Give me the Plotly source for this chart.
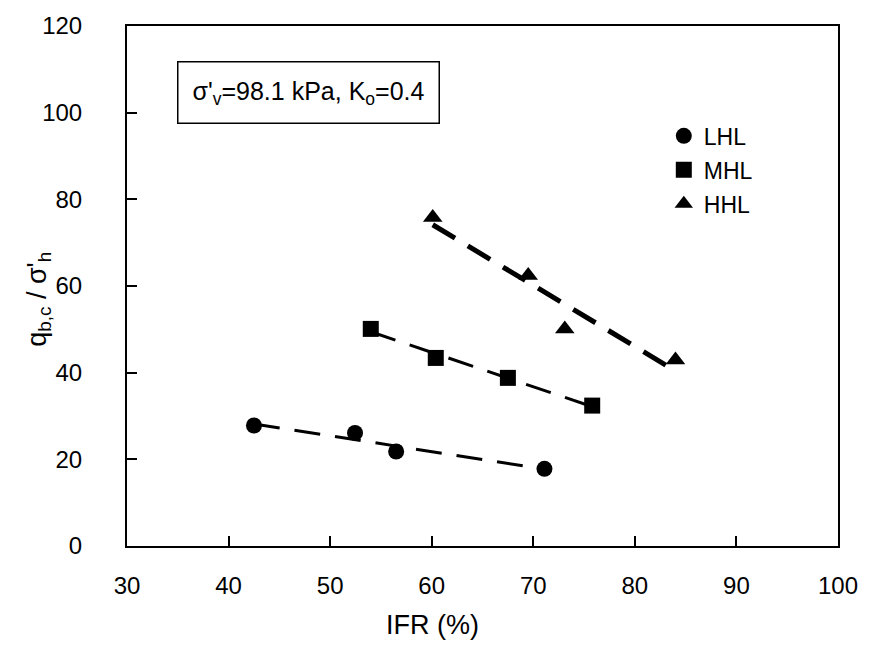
import numpy as np
import plotly.graph_objects as go

# Inner friction ratio (%) and normalised base capacity for three load levels
lhl_ifr = [42.5, 52.45, 56.5, 71.1]
lhl_q = [27.8, 26.1, 21.8, 17.8]

mhl_ifr = [54.0, 60.4, 67.5, 75.8]
mhl_q = [50.1, 43.4, 38.8, 32.4]

hhl_ifr = [60.1, 69.5, 73.1, 84.0]
hhl_q = [75.8, 62.4, 50.1, 42.9]

x_ticks = [30, 40, 50, 60, 70, 80, 90, 100]
y_ticks = [0, 20, 40, 60, 80, 100, 120]

FONT = "Liberation Sans, Arial, sans-serif"

series = [
    ("LHL", lhl_ifr, lhl_q, "circle", 3, "a"),
    ("MHL", mhl_ifr, mhl_q, "square", 3, "b"),
    ("HHL", hhl_ifr, hhl_q, "triangle-up", 5, "c"),
]

fig = go.Figure()

# least-squares trend line for each group, drawn across its data range
for name, xs, ys, sym, lw, grp in series:
    xa = np.array(xs)
    slope, icpt = np.polyfit(xa, np.array(ys), 1)
    xl = np.array([xa.min(), xa.max()])
    fig.add_trace(go.Scatter(
        x=xl, y=slope * xl + icpt, mode="lines",
        line=dict(color="black", width=lw, dash="26px,15px"),
        showlegend=False, hoverinfo="skip",
    ))

for name, xs, ys, sym, lw, grp in series:
    fig.add_trace(go.Scatter(
        x=xs, y=ys, mode="markers", name=name, legendgroup=grp,
        marker=dict(symbol=sym, size=16 if sym != "triangle-up" else 17,
                    color="black", line=dict(width=0)),
    ))

# condition box
fig.add_annotation(
    x=0.070, y=0.872, xref="paper", yref="paper", xanchor="left", yanchor="middle",
    text="σ'<sub>v</sub>=98.1 kPa, K<sub>o</sub>=0.4",
    showarrow=False, font=dict(family=FONT, size=25, color="black"),
    bordercolor="black", borderwidth=1.5, borderpad=14, bgcolor="white",
)

# axis titles
fig.add_annotation(
    x=0.430, y=-0.152, xref="paper", yref="paper", xanchor="center", yanchor="middle",
    text="IFR (%)", showarrow=False,
    font=dict(family=FONT, size=27, color="black"),
)
fig.add_annotation(
    x=-0.124, y=0.475, xref="paper", yref="paper", xanchor="center", yanchor="middle",
    text="q<sub>b,c</sub> / σ'<sub>h</sub>", showarrow=False, textangle=-90,
    font=dict(family=FONT, size=27, color="black"),
)

axis_common = dict(
    showgrid=False, zeroline=False, showline=True, linecolor="black", linewidth=2,
    mirror=True, ticks="inside", ticklen=10, tickwidth=1.5, tickcolor="black",
    tickfont=dict(family=FONT, size=24, color="black"),
)

fig.update_xaxes(
    range=[30, 100], tickvals=x_ticks, ticktext=[str(v) for v in x_ticks],
    ticklabelstandoff=17,
    **axis_common,
)
fig.update_yaxes(
    range=[0, 120], tickvals=y_ticks, ticktext=[str(v) for v in y_ticks],
    ticklabelstandoff=38,
    **axis_common,
)

fig.update_layout(
    width=870, height=672,
    margin=dict(l=127, r=25, t=20, b=126),
    plot_bgcolor="white", paper_bgcolor="white",
    legend=dict(
        x=0.755, y=0.83, xanchor="left", yanchor="top",
        font=dict(family=FONT, size=23, color="black"),
        bgcolor="rgba(0,0,0,0)", tracegroupgap=1, itemwidth=30,
    ),
)

fig.write_html("out.html")
